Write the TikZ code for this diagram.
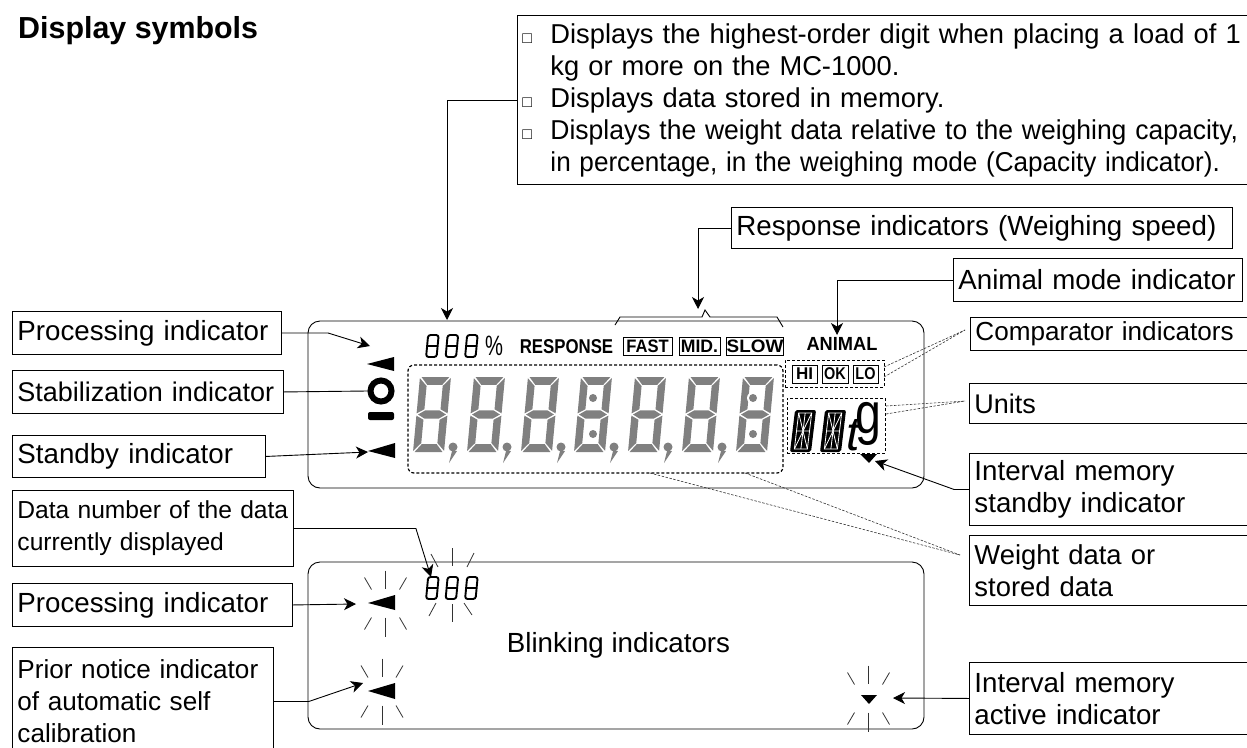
\documentclass[tikz,border=0pt]{standalone}
\usepackage{fontspec}
\setmainfont{Liberation Sans}
\usepackage{graphicx}
\usetikzlibrary{arrows.meta}

\newcommand{\lblsize}[1]{\fontsize{#1}{32}\selectfont}
\newcommand{\tline}[1]{\makebox[\hsize][l]{#1}}
\newcommand{\squarebul}{\makebox[28pt][l]{\fontsize{16}{16}\selectfont □}}
\newcommand{\segdigit}[2]{%
    \begin{scope}[shift={(#1,#2)},x=31pt,y=-37.5pt,xslant=0.093]
        \path[grayseg] (.05,-2) -- (.95,-2) -- (.74,-1.79) -- (.26,-1.79) -- cycle;
        \path[grayseg] (.05,0) -- (.95,0) -- (.74,-.21) -- (.26,-.21) -- cycle;
        \path[grayseg] (.05,-1) -- (.27,-1.11) -- (.73,-1.11) -- (.95,-1) -- (.73,-.89) -- (.27,-.89) -- cycle;
        \path[grayseg] (0,-1.97) -- (.24,-1.76) -- (.24,-1.14) -- (0,-1.03) -- cycle;
        \path[grayseg] (1,-1.97) -- (.76,-1.76) -- (.76,-1.14) -- (1,-1.03) -- cycle;
        \path[grayseg] (0,-.03) -- (.24,-.24) -- (.24,-.86) -- (0,-.97) -- cycle;
        \path[grayseg] (1,-.03) -- (.76,-.24) -- (.76,-.86) -- (1,-.97) -- cycle;
    \end{scope}}
\newcommand{\smalldigit}[2]{%
    \begin{scope}[shift={(#1,#2)},xslant=0.093]
        \draw[line width=1.9pt,rounded corners=2.5pt] (1,-1) rectangle (11.5,-23);
        \draw[line width=1.9pt] (1,-12) -- (11.5,-12);
    \end{scope}}
\newcommand{\alphadigit}[2]{%
    \begin{scope}[shift={(#1,#2)},xslant=0.12]
        \fill[rounded corners=2pt] (0,0) rectangle (21,-42);
        \draw[white,line width=.8pt] (4,-3) rectangle (17,-39);
        \draw[white,line width=.8pt] (4,-21) -- (17,-21) (10.5,-3) -- (10.5,-39);
        \draw[white,line width=.8pt] (4,-3) -- (10.5,-21) -- (17,-3) (4,-39) -- (10.5,-21) -- (17,-39);
    \end{scope}}
\newcommand{\blinkrays}[2]{%
    \begin{scope}[shift={(#1,#2)}]
        \draw[raystyle] (0,-33) -- (0,-15);
        \draw[raystyle] (0,14) -- (0,33);
        \draw[raystyle] (-21,-26) -- (-14,-14);
        \draw[raystyle] (21,-26) -- (14,-14);
        \draw[raystyle] (-21,26) -- (-14,14);
        \draw[raystyle] (21,26) -- (14,14);
    \end{scope}}

\tikzset{
    labelbox/.style={draw,line width=.9pt,anchor=north west,align=left,inner xsep=5pt,inner ysep=0pt},
    frame/.style={draw,line width=.9pt,rounded corners=12pt,inner sep=0pt},
    dashbox/.style={draw,line width=1.2pt,dash pattern=on 3pt off 2pt,inner sep=0pt},
    modebox/.style={draw,line width=.8pt,inner sep=0pt,font=\bfseries\lblsize{18}},
    tipline/.style={line width=.9pt,-{Stealth[length=12pt,width=12pt,inset=3.5pt]}},
    plainline/.style={line width=.9pt},
    leader/.style={line width=.6pt,dash pattern=on 2.5pt off 1.5pt,black!80},
    raystyle/.style={line width=.8pt,black!80},
    grayseg/.style={fill=black!50}
}

\begin{document}
\begin{tikzpicture}[x=1pt,y=-1pt]
    \useasboundingbox (0,0) rectangle (1247,747);

    \node[anchor=base west,inner sep=0pt,font=\bfseries\lblsize{30.4}] (title) at (18,38) {Display symbols};

    % displays
    \node[frame,minimum width=616pt,minimum height=167pt] (dispupper) at (616,404.5) {};
    \node[frame,minimum width=616pt,minimum height=167pt] (displower) at (616,645.5) {};
    \node[font=\lblsize{27.7}] (blinking) at (618.5,645) {Blinking indicators};

    % upper display segments
    \foreach \x in {413,467,521,574,628,682,736} {
        \segdigit{\x}{452}
    }
    \foreach \x in {453,507,561,614,668,722} {
        \fill[black!50] (\x,447) circle (4.5pt);
        \fill[black!50] (\x-1,451) -- (\x+4,451) -- (\x-4,463) -- cycle;
    }
    \foreach \x in {593,753} {
        \fill[white] (\x,398) circle (6pt);
        \fill[black!50] (\x,398) circle (4pt);
        \fill[white] (\x,434) circle (6pt);
        \fill[black!50] (\x,434) circle (4pt);
    }
    \foreach \x in {425,444.5,464} {
        \smalldigit{\x}{358}
    }
    \node[inner sep=0pt,font=\lblsize{28}] (percent) at (494,346) {\scalebox{.72}[1]{\%}};
    \node[inner sep=0pt,font=\bfseries\lblsize{20}] (response) at (566.5,347) {\scalebox{.84}[1]{RESPONSE}};
    \node[modebox,minimum width=49pt,minimum height=18pt] (fast) at (647.5,346) {\scalebox{.92}[1]{FAST}};
    \node[modebox,minimum width=41pt,minimum height=18pt] (mid) at (699.5,346) {\scalebox{.98}[1]{MID.}};
    \node[modebox,minimum width=56pt,minimum height=18pt] (slow) at (755,346) {\scalebox{1.05}[1]{SLOW}};
    \node[inner sep=0pt,font=\bfseries\lblsize{19}] (animal) at (842,344) {\scalebox{.96}[1]{ANIMAL}};
    \node[modebox,minimum width=25pt,minimum height=18pt,font=\bfseries\lblsize{17}] (hi) at (804.5,374) {HI};
    \node[modebox,minimum width=26pt,minimum height=18pt,font=\bfseries\lblsize{17}] (ok) at (835,374) {\scalebox{.85}[1]{OK}};
    \node[modebox,minimum width=25pt,minimum height=18pt,font=\bfseries\lblsize{17}] (lo) at (865.5,374) {\scalebox{.85}[1]{LO}};
    \node[dashbox,line width=1pt,minimum width=99pt,minimum height=27pt] (comparearea) at (834.5,373.5) {};
    \node[dashbox,line width=1pt,minimum width=98pt,minimum height=55pt] (unitarea) at (836,425.5) {};
    \node[dashbox,rounded corners=6pt,minimum width=375pt,minimum height=108pt] (weightarea) at (595.5,419) {};
    \alphadigit{790}{452}
    \alphadigit{820}{452}
    \node[inner sep=0pt,font=\itshape\lblsize{48}] (unitt) at (853,435) {t};
    \node[inner sep=0pt,font=\lblsize{58}] (unitg) at (868,424) {\scalebox{.8}[1]{g}};

    % indicators
    \fill (394,357) -- (394,371) -- (367,364) -- cycle;
    \node[circle,draw,line width=6pt,minimum size=21pt,inner sep=0pt] (ring) at (381,391) {};
    \fill[rounded corners=2pt] (368,412) rectangle (394,420);
    \fill (395,443) -- (395,458) -- (368,451) -- cycle;
    \fill (869,463) -- (860,454) -- (877,454) -- cycle;
    \draw[line width=.9pt] (615,325) -- (620,317) -- (702,317) -- (705,310) -- (710,317) -- (777,317) -- (783,327);

    % lower display symbols
    \fill (395,595) -- (395,610) -- (368,603) -- cycle;
    \blinkrays{385.5}{603.5}
    \fill (395,683) -- (395,699) -- (368,691) -- cycle;
    \blinkrays{382}{691.5}
    \fill (869,704) -- (861,695) -- (877,695) -- cycle;
    \blinkrays{868.5}{698.5}
    \foreach \x in {425,444.5,464} {
        \smalldigit{\x}{600}
    }
    \begin{scope}[shift={(452,585)}]
        \draw[raystyle] (0,-37) -- (0,-19);
        \draw[raystyle] (0,19) -- (0,37);
        \draw[raystyle] (-21,-31) -- (-14,-18);
        \draw[raystyle] (22,-32) -- (15,-18);
        \draw[raystyle] (-16,18) -- (-23,31);
        \draw[raystyle] (12,18) -- (20,30);
    \end{scope}

    % label boxes
    \node[labelbox,text width=740pt,minimum height=169pt,font=\lblsize{27.3}] (capacity) at (517,15)
        {\tline{\squarebul Displays the highest-order digit when placing a load of 1}\\
        \tline{\hspace*{28pt}kg or more on the MC-1000.}\\
        \tline{\squarebul Displays data stored in memory.}\\
        \tline{\squarebul \scalebox{.971}[1]{Displays the weight data relative to the weighing capacity,}}\\
        \tline{\hspace*{28pt}\scalebox{.957}[1]{in percentage, in the weighing mode (Capacity indicator).}}};
    \node[labelbox,text width=491pt,minimum height=41pt,font=\lblsize{27.7}] (speed) at (731,207) {\tline{Response indicators (Weighing speed)}};
    \node[labelbox,text width=279pt,minimum height=43pt,font=\lblsize{27.7}] (animalmode) at (953,258) {\tline{Animal mode indicator}};
    \node[labelbox,text width=290pt,minimum height=33pt,font=\lblsize{26.1}] (comparator) at (970,317) {\tline{Comparator indicators}};
    \node[labelbox,text width=290pt,minimum height=40pt,font=\lblsize{27}] (units) at (969,383) {\tline{Units}};
    \node[labelbox,text width=290pt,minimum height=72pt,font=\lblsize{27.7}] (memstandby) at (969,453) {\tline{Interval memory}\\\tline{standby indicator}};
    \node[labelbox,text width=290pt,minimum height=70pt,font=\lblsize{27.4}] (weight) at (969,535) {\tline{Weight data or}\\\tline{stored data}};
    \node[labelbox,text width=290pt,minimum height=72pt,font=\lblsize{27.7}] (memactive) at (969,662) {\tline{Interval memory}\\\tline{active indicator}};
    \node[labelbox,text width=259pt,minimum height=43pt,font=\lblsize{27.7}] (proc) at (12,311) {\tline{Processing indicator}};
    \node[labelbox,text width=261pt,minimum height=43pt,font=\lblsize{27}] (stab) at (12,370) {\tline{Stabilization indicator}};
    \node[labelbox,text width=243pt,minimum height=42pt,font=\lblsize{27.7}] (standby) at (12,435) {\tline{Standby indicator}};
    \node[labelbox,text width=271pt,minimum height=76pt,font=\lblsize{24.6}] (datano) at (12,490) {\tline{Data number of the data}\\\tline{currently displayed}};
    \node[labelbox,text width=270pt,minimum height=43pt,font=\lblsize{27.7}] (procb) at (12,583) {\tline{Processing indicator}};
    \node[labelbox,text width=251pt,minimum height=108pt,font=\lblsize{26.1}] (prior) at (12,647) {\tline{Prior notice indicator}\\\tline{of automatic self}\\\tline{calibration}};

    % connector ends
    \coordinate (tipcapacity) at (447,320);
    \coordinate (tipspeed) at (698,309);
    \coordinate (tipanimal) at (837,335);
    \coordinate (tipproc) at (370,346);
    \coordinate (tipstandby) at (368,452);
    \coordinate (tipdatano) at (431,577);
    \coordinate (tipprocb) at (356,604);
    \coordinate (tipprior) at (363,683);
    \coordinate (tipmemstandby) at (875,461);
    \coordinate (tipmemactive) at (893,698);
    \coordinate (endcomparator) at (965,330);
    \coordinate (endunits) at (965,401);
    \coordinate (endweight) at (960,555);
    \coordinate (compareone) at (884,367);
    \coordinate (comparetwo) at (884,377);
    \coordinate (unitone) at (886,406);
    \coordinate (unittwo) at (886,414);
    \coordinate (weightone) at (650,473);
    \coordinate (weighttwo) at (745,473);

    % connectors
    \draw[tipline] (capacity.west) -| (tipcapacity);
    \draw[tipline] (speed.west) -| (tipspeed);
    \draw[tipline] (animalmode.west) -| (tipanimal);
    \draw[tipline] (proc.east) -- ++(46,0) -- (tipproc);
    \draw[plainline] (stab.east) -- (ring.west);
    \draw[tipline] (standby.east) -- (tipstandby);
    \draw[tipline] (datano.east) -- ++(122,0) -- (tipdatano);
    \draw[tipline] (procb.east) -- (tipprocb);
    \draw[tipline] (prior.east) -- ++(35,0) -- (tipprior);
    \draw[tipline] (memstandby.west) -- ++(-15,0) -- (tipmemstandby);
    \draw[tipline] (memactive.west) -- (tipmemactive);
    \draw[leader] (compareone) -- (endcomparator);
    \draw[leader] (comparetwo) -- (endcomparator);
    \draw[leader] (unitone) -- (endunits);
    \draw[leader] (unittwo) -- (endunits);
    \draw[leader] (weightone) -- (endweight);
    \draw[leader] (weighttwo) -- (endweight);
\end{tikzpicture}
\end{document}
